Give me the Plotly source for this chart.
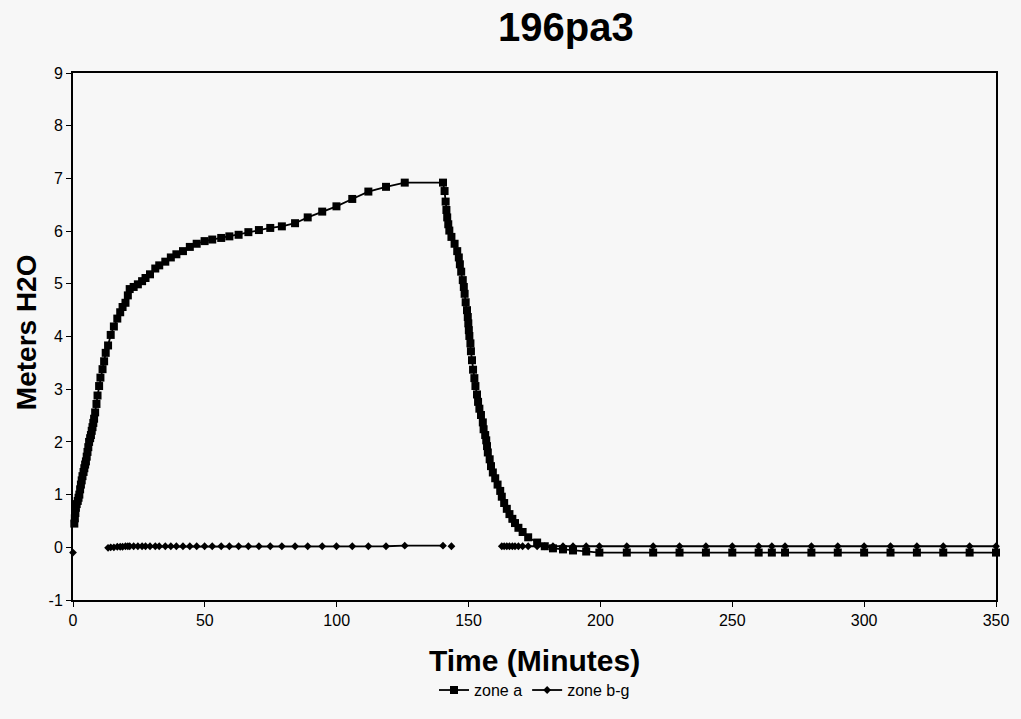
import plotly.graph_objects as go

# Shared time axis (minutes)
time_min = [
    0.0, 0.5, 0.7, 0.9, 1.1, 1.4, 1.8, 2.1, 2.4, 2.7, 3.0, 3.3, 3.6, 4.0, 4.3, 4.6,
    4.9, 5.2, 5.5, 5.8, 6.1, 6.5, 6.8, 7.1, 7.4, 7.7, 8.0, 8.4, 8.9, 9.3, 9.9,
    10.4, 11.2, 11.8, 12.4, 13.3, 14.3, 15.5, 16.8, 17.9, 18.8, 19.9, 20.8,
    21.5, 23.0, 24.6, 26.2, 27.5, 29.2, 31.2, 32.7, 35.0, 37.1, 39.2, 41.7,
    44.3, 46.9, 49.9, 52.8, 56.2, 59.3, 62.8, 66.5, 70.5, 74.8, 79.2, 84.2,
    89.0, 94.5, 99.9, 105.9, 112.0, 118.7, 125.8, 140.3,
    140.9, 141.3, 141.6, 141.9, 142.3, 142.7, 143.5, 144.7, 145.7, 146.3,
    146.7, 147.2, 147.8, 148.2, 148.5, 148.9, 149.4, 149.7, 149.9, 150.1,
    150.3, 150.7, 150.9, 151.3, 151.7, 152.2, 152.6, 153.2, 153.6, 154.1,
    154.7, 155.4, 155.7, 156.3, 156.7, 157.0, 157.3, 158.0, 158.5, 159.2,
    160.1, 161.0, 162.0, 162.6, 163.5, 164.5, 165.5, 166.6, 167.6, 168.9,
    170.5, 172.6, 176.0, 178.9, 182.0, 185.8, 189.6, 194.6, 199.6, 210.0,
    220.0, 230.0, 240.0, 250.0, 260.0, 265.0, 270.0, 280.0, 290.0, 300.0,
    310.0, 320.0, 330.0, 340.0, 350.0,
]

zone_a = [
    None, 0.45, 0.55, 0.65, 0.75, 0.82, 0.88, 0.94, 1.00, 1.10, 1.19, 1.27, 1.35, 1.43, 1.50, 1.57,
    1.63, 1.72, 1.81, 1.90, 2.00, 2.07, 2.13, 2.21, 2.28, 2.36, 2.44, 2.56, 2.72, 2.88, 3.06,
    3.22, 3.38, 3.53, 3.69, 3.83, 4.03, 4.19, 4.34, 4.46, 4.56, 4.64, 4.78,
    4.90, 4.94, 4.99, 5.05, 5.11, 5.18, 5.29, 5.35, 5.42, 5.50, 5.56, 5.62,
    5.70, 5.76, 5.81, 5.84, 5.87, 5.90, 5.93, 5.98, 6.02, 6.06, 6.09, 6.15,
    6.26, 6.37, 6.47, 6.61, 6.75, 6.84, 6.92, 6.92,
    6.76, 6.56, 6.40, 6.26, 6.13, 6.01, 5.89, 5.76, 5.62, 5.50,
    5.37, 5.23, 5.07, 4.94, 4.81, 4.65, 4.50, 4.37, 4.25, 4.12,
    4.01, 3.87, 3.72, 3.55, 3.37, 3.21, 3.06, 2.90, 2.76, 2.63,
    2.51, 2.37, 2.24, 2.13, 2.03, 1.92, 1.80, 1.67, 1.54, 1.42,
    1.31, 1.19, 1.07, 0.96, 0.84, 0.73, 0.63, 0.54, 0.46, 0.37,
    0.29, 0.19, 0.09, 0.02, -0.02, -0.04, -0.06, -0.08, -0.10, -0.10,
    -0.10, -0.10, -0.10, -0.10, -0.10, -0.10, -0.10, -0.10, -0.10, -0.10,
    -0.10, -0.10, -0.10, -0.10, -0.10,
]

zone_bg = [
    -0.10, None, None, None, None, None, None, None, None, None, None, None, None, None, None, None,
    None, None, None, None, None, None, None, None, None, None, None, None, None, None, None,
    None, None, None, None, -0.01, 0.0, 0.0, 0.01, 0.01, 0.01, 0.02, 0.02,
    0.02, 0.02, 0.02, 0.02, 0.02, 0.02, 0.02, 0.02, 0.02, 0.02, 0.02, 0.02,
    0.02, 0.02, 0.02, 0.02, 0.02, 0.02, 0.02, 0.02, 0.02, 0.02, 0.02, 0.02,
    0.02, 0.02, 0.02, 0.02, 0.02, 0.02, 0.03, 0.03,
    None, None, None, None, None, None, 0.02, None, None, None,
    None, None, None, None, None, None, None, None, None, None,
    None, None, None, None, None, None, None, None, None, None,
    None, None, None, None, None, None, None, None, None, None,
    None, None, None, 0.02, 0.02, 0.02, 0.02, 0.02, 0.02, 0.02,
    0.02, 0.02, 0.02, 0.02, 0.02, 0.02, 0.02, 0.02, 0.02, 0.02,
    0.02, 0.02, 0.02, 0.02, 0.02, 0.02, 0.02, 0.02, 0.02, 0.02,
    0.02, 0.02, 0.02, 0.02, 0.02,
]

x_ticks = [0, 50, 100, 150, 200, 250, 300, 350]
y_ticks = [-1, 0, 1, 2, 3, 4, 5, 6, 7, 8, 9]

FONT = "Arial, Liberation Sans, sans-serif"

fig = go.Figure()
fig.add_trace(go.Scatter(
    x=time_min, y=zone_a, name="zone a", mode="lines+markers",
    line=dict(color="black", width=1.8),
    marker=dict(symbol="square", size=8, color="black"),
    cliponaxis=False, connectgaps=False,
))
fig.add_trace(go.Scatter(
    x=time_min, y=zone_bg, name="zone b-g", mode="lines+markers",
    line=dict(color="black", width=1.8),
    marker=dict(symbol="diamond", size=6, color="black"),
    cliponaxis=False, connectgaps=False,
))

fig.update_layout(
    width=1021, height=719, autosize=False,
    margin=dict(l=73, r=18, t=73, b=112),
    paper_bgcolor="#f7f7f7", plot_bgcolor="#f7f7f7",
    font=dict(family=FONT, color="black", size=16),
    title=dict(text="<b>196pa3</b>", xref="paper", x=0.534, xanchor="center",
               yref="container", y=0.962, yanchor="middle",
               font=dict(size=40, family=FONT)),
    showlegend=True,
    legend=dict(orientation="h", x=0.5, xanchor="center", y=-0.171, yanchor="middle",
                font=dict(size=16, family=FONT), bgcolor="rgba(0,0,0,0)",
                itemwidth=30, tracegroupgap=0),
    annotations=[
        dict(text="<b>Meters H2O</b>", xref="paper", yref="paper", x=-0.0505, y=0.509,
             xanchor="center", yanchor="middle", textangle=-90, showarrow=False,
             font=dict(size=28, family=FONT)),
        dict(text="<b>Time (Minutes)</b>", xref="paper", yref="paper", x=0.5, y=-0.114,
             xanchor="center", yanchor="middle", showarrow=False,
             font=dict(size=30, family=FONT)),
    ],
)
fig.update_xaxes(
    range=[0, 350], tickvals=x_ticks, ticktext=[str(v) for v in x_ticks],
    showgrid=False, zeroline=False, showline=True, mirror=True,
    linecolor="black", linewidth=2, ticks="outside", ticklen=5, tickcolor="black",
    tickfont=dict(size=16),
)
fig.update_yaxes(
    range=[-1, 9], tickvals=y_ticks, ticktext=[str(v) for v in y_ticks],
    showgrid=False, zeroline=False, showline=True, mirror=True,
    linecolor="black", linewidth=2, ticks="outside", ticklen=5, tickcolor="black",
    tickfont=dict(size=16),
)

fig.write_html("out.html")
